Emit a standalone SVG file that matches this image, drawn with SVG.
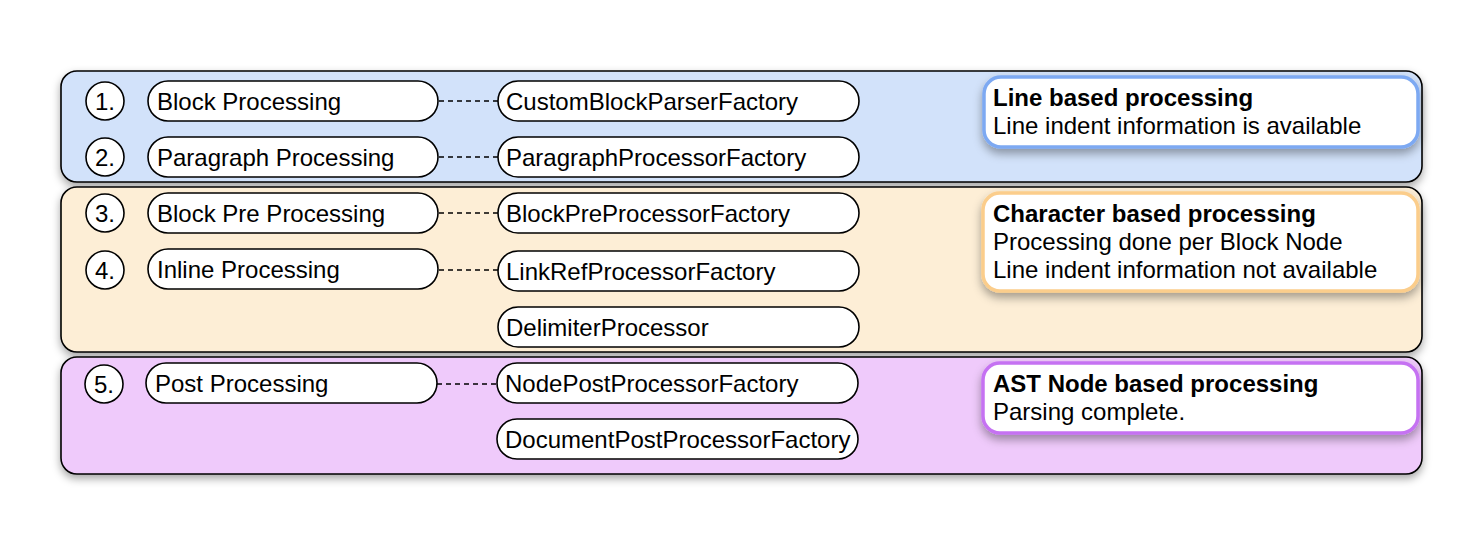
<svg xmlns="http://www.w3.org/2000/svg" width="1484" height="550" viewBox="0 0 1484 550">
<defs>
<filter id="sh" x="-5%" y="-20%" width="110%" height="150%">
<feDropShadow dx="0" dy="4" stdDeviation="4" flood-color="#000" flood-opacity="0.35"/>
</filter>
<filter id="sh2" x="-10%" y="-30%" width="120%" height="170%">
<feDropShadow dx="0" dy="5" stdDeviation="5" flood-color="#000" flood-opacity="0.35"/>
</filter>
</defs>
<style>
.band{stroke:#000;stroke-width:1.6}
.pill{fill:#fff;stroke:#000;stroke-width:1.6}
.t{font-family:"Liberation Sans",Arial,sans-serif;font-size:24px;fill:#000}
.b{font-weight:bold}
.num{text-anchor:middle}
.note{fill:#fff;stroke-width:3.5}
.dash{stroke:#000;stroke-width:1.5;stroke-dasharray:5 4;fill:none}
</style>
<rect width="1484" height="550" fill="#fff"/>
<g id="band1"><rect class="band" x="61" y="71" width="1361" height="111" rx="16" fill="#d2e2fa" filter="url(#sh)"/></g>
<g id="band2"><rect class="band" x="61" y="187" width="1361" height="165" rx="16" fill="#fdeed6" filter="url(#sh)"/></g>
<g id="band3"><rect class="band" x="61" y="357" width="1361" height="117" rx="16" fill="#efcafb" filter="url(#sh)"/></g>

<g id="connectors">
<line class="dash" x1="439" y1="101" x2="498" y2="101"/>
<line class="dash" x1="439" y1="157" x2="498" y2="157"/>
<line class="dash" x1="439" y1="213" x2="498" y2="213"/>
<line class="dash" x1="439" y1="270" x2="498" y2="270"/>
<line class="dash" x1="437" y1="384" x2="497" y2="384"/>
</g>

<g id="n1"><circle class="pill" cx="105" cy="101" r="19"/><text class="t num" x="105" y="110">1.</text></g>
<g id="n2"><circle class="pill" cx="105" cy="157" r="19"/><text class="t num" x="105" y="166">2.</text></g>
<g id="n3"><circle class="pill" cx="105" cy="213" r="19"/><text class="t num" x="105" y="222">3.</text></g>
<g id="n4"><circle class="pill" cx="105" cy="270" r="19"/><text class="t num" x="105" y="279">4.</text></g>
<g id="n5"><circle class="pill" cx="104" cy="384" r="19"/><text class="t num" x="104" y="393">5.</text></g>

<g id="blockProcessing"><rect class="pill" x="148" y="81" width="290" height="40" rx="20"/><text class="t" x="157" y="110">Block Processing</text></g>
<g id="paragraphProcessing"><rect class="pill" x="148" y="137" width="290" height="40" rx="20"/><text class="t" x="157" y="166">Paragraph Processing</text></g>
<g id="blockPreProcessing"><rect class="pill" x="148" y="193" width="290" height="40" rx="20"/><text class="t" x="157" y="222">Block Pre Processing</text></g>
<g id="inlineProcessing"><rect class="pill" x="148" y="249" width="290" height="40" rx="20"/><text class="t" x="157" y="278">Inline Processing</text></g>
<g id="postProcessing"><rect class="pill" x="146" y="363" width="291" height="40" rx="20"/><text class="t" x="155" y="392">Post Processing</text></g>

<g id="customBlockParserFactory"><rect class="pill" x="498" y="81" width="361" height="40" rx="20"/><text class="t" x="506" y="110">CustomBlockParserFactory</text></g>
<g id="paragraphProcessorFactory"><rect class="pill" x="498" y="137" width="361" height="40" rx="20"/><text class="t" x="506" y="166">ParagraphProcessorFactory</text></g>
<g id="blockPreProcessorFactory"><rect class="pill" x="498" y="193" width="361" height="40" rx="20"/><text class="t" x="506" y="222">BlockPreProcessorFactory</text></g>
<g id="linkRefProcessorFactory"><rect class="pill" x="498" y="251" width="361" height="40" rx="20"/><text class="t" x="506" y="280">LinkRefProcessorFactory</text></g>
<g id="delimiterProcessor"><rect class="pill" x="498" y="307" width="361" height="40" rx="20"/><text class="t" x="506" y="336">DelimiterProcessor</text></g>
<g id="nodePostProcessorFactory"><rect class="pill" x="497" y="363" width="361" height="40" rx="20"/><text class="t" x="505" y="392">NodePostProcessorFactory</text></g>
<g id="documentPostProcessorFactory"><rect class="pill" x="497" y="419" width="361" height="40" rx="20"/><text class="t" x="505" y="448">DocumentPostProcessorFactory</text></g>

<g id="note1"><rect class="note" x="984" y="77" width="434" height="70" rx="17" stroke="#7da9f2" filter="url(#sh2)"/>
<text class="t b" x="993" y="106">Line based processing</text>
<text class="t" x="993" y="134">Line indent information is available</text></g>
<g id="note2"><rect class="note" x="983" y="193" width="435" height="98" rx="17" stroke="#fbcd8b" filter="url(#sh2)"/>
<text class="t b" x="993" y="222">Character based processing</text>
<text class="t" x="993" y="250">Processing done per Block Node</text>
<text class="t" x="993" y="278">Line indent information not available</text></g>
<g id="note3"><rect class="note" x="983" y="363" width="435" height="70" rx="17" stroke="#c572f2" filter="url(#sh2)"/>
<text class="t b" x="993" y="392">AST Node based processing</text>
<text class="t" x="993" y="420">Parsing complete.</text></g>
</svg>
